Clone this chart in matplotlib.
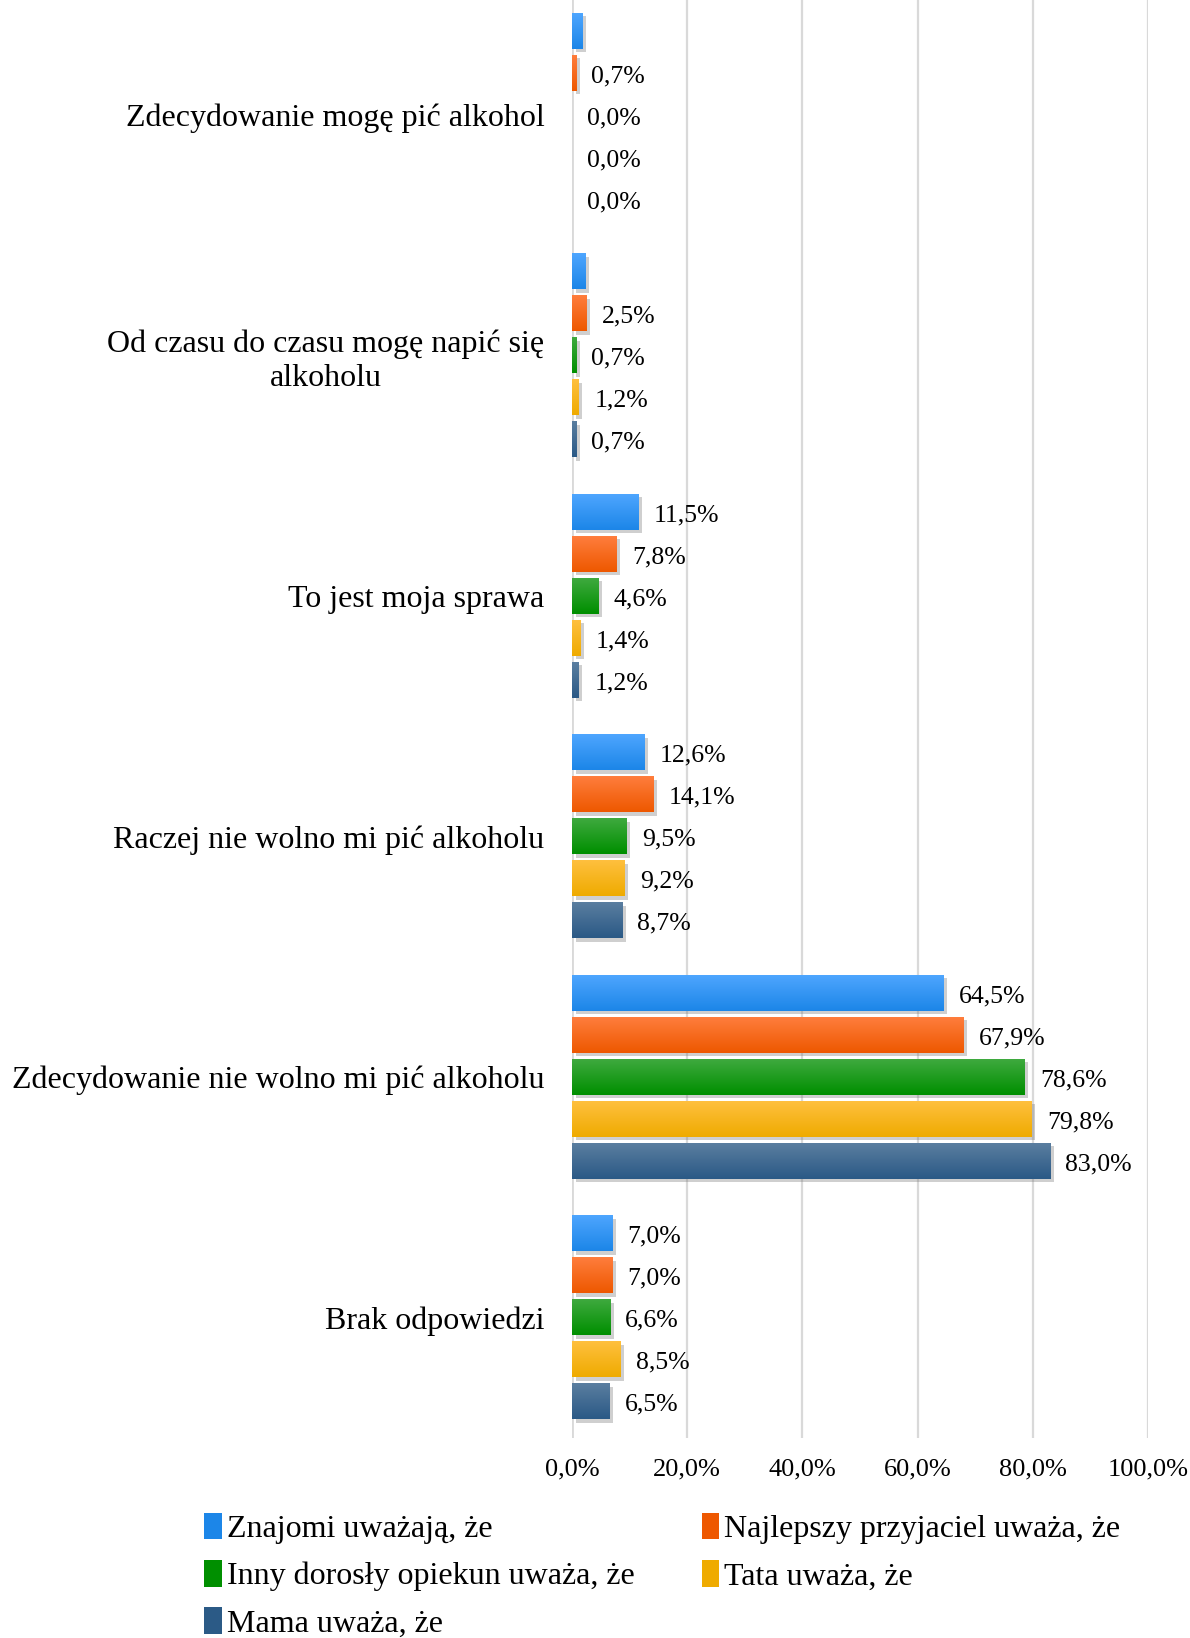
import numpy as np
import matplotlib
matplotlib.use("Agg")
import matplotlib.pyplot as plt
import matplotlib.patheffects as pe
from matplotlib.colors import to_rgb
from matplotlib.patches import Patch

plt.rcParams['font.family'] = ['Liberation Serif', 'DejaVu Serif']

categories = [
    "Zdecydowanie mogę pić alkohol",
    "Od czasu do czasu mogę napić się\nalkoholu",
    "To jest moja sprawa",
    "Raczej nie wolno mi pić alkoholu",
    "Zdecydowanie nie wolno mi pić alkoholu",
    "Brak odpowiedzi",
]

series_names = [
    "Znajomi uważają, że",
    "Najlepszy przyjaciel uważa, że",
    "Inny dorosły opiekun uważa, że",
    "Tata uważa, że",
    "Mama uważa, że",
]

znajomi = [1.8, 2.3, 11.5, 12.6, 64.5, 7.0]
przyjaciel = [0.7, 2.5, 7.8, 14.1, 67.9, 7.0]
opiekun = [0.0, 0.7, 4.6, 9.5, 78.6, 6.6]
tata = [0.0, 1.2, 1.4, 9.2, 79.8, 8.5]
mama = [0.0, 0.7, 1.2, 8.7, 83.0, 6.5]
values = [znajomi, przyjaciel, opiekun, tata, mama]

# data labels missing on the first two "Znajomi" bars
show_label = [
    [False, False, True, True, True, True],
    [True] * 6,
    [True] * 6,
    [True] * 6,
    [True] * 6,
]

# (top colour, bottom colour) for the bar gradients
colors = [
    ("#4FA6FF", "#1C86E8"),
    ("#FF7E3E", "#EE5800"),
    ("#40AA40", "#008F00"),
    ("#FFC040", "#EFAB00"),
    ("#5B7EA0", "#2B5A86"),
]

xticks = [0, 20, 40, 60, 80, 100]

fig = plt.figure(figsize=(11.9, 16.38), dpi=100)
ax = fig.add_axes([0.4807, 0.1223, 0.484, 0.881])

slot = 0.1746
bar_h = 0.1497
y = np.arange(len(categories))

for j, vals in enumerate(values):
    top, bottom = colors[j]
    mid = tuple((np.array(to_rgb(top)) + np.array(to_rgb(bottom))) / 2)
    ypos = y + (j - 2) * slot
    bars = ax.barh(ypos, vals, height=bar_h, color=mid, zorder=3,
                   path_effects=[pe.SimplePatchShadow(offset=(2.5, -2.5), shadow_rgbFace='#777777', alpha=0.35),
                                 pe.Normal()])
    grad = np.linspace(0, 1, 32)[:, None, None]
    img = (1 - grad) * np.array(to_rgb(top)) + grad * np.array(to_rgb(bottom))
    for b, v, c, show in zip(bars, vals, ypos, show_label[j]):
        if v > 0:
            im = ax.imshow(img, extent=(0, v, c + bar_h / 2, c - bar_h / 2), origin='upper',
                           aspect='auto', zorder=4, interpolation='bilinear')
            im.set_clip_path(b)
        if show:
            ax.annotate(f"{v:.1f}%".replace('.', ','), xy=(v, c), xytext=(11, -2.5),
                        textcoords='offset points', ha='left', va='center',
                        fontsize=18.5, color='black', zorder=5)

ax.set_xlim(0, 100)
ax.set_ylim(len(categories) - 0.5, -0.5)
ax.set_xticks(xticks)
ax.set_xticklabels([f"{t:.1f}%".replace('.', ',') for t in xticks], fontsize=19)
ax.set_yticks(y)
ax.set_yticklabels(categories, fontsize=23, multialignment='center')
ax.tick_params(axis='x', length=0, pad=15)
ax.tick_params(axis='y', length=0, pad=20)
ax.grid(axis='x', color='#D9D9D9', linewidth=1.6, zorder=0)
ax.axvline(0, color='#D9D9D9', linewidth=2, zorder=1)
for s in ax.spines.values():
    s.set_visible(False)

handles = [Patch(facecolor=colors[j][1], label=series_names[j]) for j in range(5)]
order = [0, 2, 4, 1, 3]
fig.legend([handles[i] for i in order], [series_names[i] for i in order],
           ncol=2, loc='upper left', bbox_to_anchor=(0.161, 0.0842), frameon=False,
           fontsize=23, handlelength=0.55, handleheight=0.9, handletextpad=0.15,
           columnspacing=2.1, labelspacing=0.5, borderaxespad=0)

fig.savefig("out.png", dpi=100)
